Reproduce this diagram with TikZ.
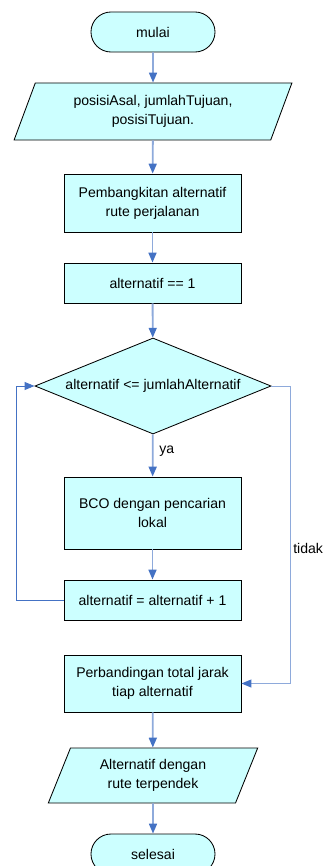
\documentclass[tikz,border=0pt]{standalone}
\usepackage{fontspec}
\setmainfont{Liberation Sans}
\usetikzlibrary{shapes.geometric,arrows.meta}

\definecolor{boxfill}{HTML}{CCFFFF}
\definecolor{flowline}{HTML}{8EAADB}
\definecolor{flowhead}{HTML}{4472C4}

\tikzset{
	base/.style={draw=black, fill=boxfill, line width=0.6pt, align=center, inner sep=0pt,
		font=\fontsize{10}{13.5}\selectfont},
	terminal/.style={base, rectangle, rounded corners=0.5cm, minimum width=3.1cm, minimum height=1cm},
	process/.style={base, rectangle, minimum width=4.425cm},
	io/.style={base, trapezium, trapezium left angle=66, trapezium right angle=114, trapezium stretches},
	decision/.style={base, diamond, shape aspect=2.46, minimum width=5.9cm, minimum height=2.4cm},
	flow/.style={draw=flowline, line width=1.3pt, -{Triangle[length=7pt, width=5.6pt, color=flowhead]}},
	loopback/.style={draw=flowhead, line width=0.6pt, -{Triangle[length=7pt, width=5.6pt, color=flowhead]}},
	loopout/.style={draw=flowline, line width=0.7pt, -{Triangle[length=7pt, width=5.6pt, color=flowhead]}},
	tag/.style={font=\fontsize{10}{13.5}\selectfont, inner sep=0pt, anchor=west}
}

\begin{document}
\begin{tikzpicture}[x=0.025cm, y=-0.025cm]

	\useasboundingbox (0,0) rectangle (322,866);

	\node[terminal] (mulai) at (153,32) {mulai};
	\node[io, minimum width=6.95cm, minimum height=1.425cm] (masukan) at (153,111.5) {posisiAsal, jumlahTujuan,\\posisiTujuan.};
	\node[process, minimum height=1.45cm] (bangkit) at (152.5,203) {Pembangkitan alternatif\\rute perjalanan};
	\node[process, minimum height=1cm] (awal) at (152.5,283) {alternatif == 1};
	\node[decision] (cek) at (153,386) {alternatif <= jumlahAlternatif};
	\node[process, minimum height=1.8cm] (bco) at (152.5,513) {BCO dengan pencarian\\lokal};
	\node[process, minimum height=1cm] (tambah) at (152.5,600) {alternatif = alternatif + 1};
	\node[process, minimum height=1.425cm] (banding) at (152.5,683.5) {Perbandingan total jarak\\tiap alternatif};
	\node[io, minimum width=5.25cm, minimum height=1.375cm] (hasil) at (153,775.5) {Alternatif dengan\\rute terpendek};
	\node[terminal] (selesai) at (153,854) {selesai};

	\coordinate (kiri) at (16,600);
	\coordinate (kanan) at (290,386);

	\draw[flow] (mulai) -- (masukan);
	\draw[flow] (masukan) -- (bangkit);
	\draw[flow] (bangkit) -- (awal);
	\draw[flow] (awal) -- (cek);
	\draw[flow] (cek) -- node[tag, pos=0.4, xshift=4pt] (ya) {ya} (bco);
	\draw[flow] (bco) -- (tambah);
	\draw[flow] (banding) -- (hasil);
	\draw[flow] (hasil) -- (selesai);

	\draw[loopback] (tambah.west) -- (kiri) |- (cek.west);
	\draw[loopout] (cek.east) -- (kanan) |- (banding.east);

	\node[tag] (tidak) at (293,548) {tidak};

\end{tikzpicture}
\end{document}
